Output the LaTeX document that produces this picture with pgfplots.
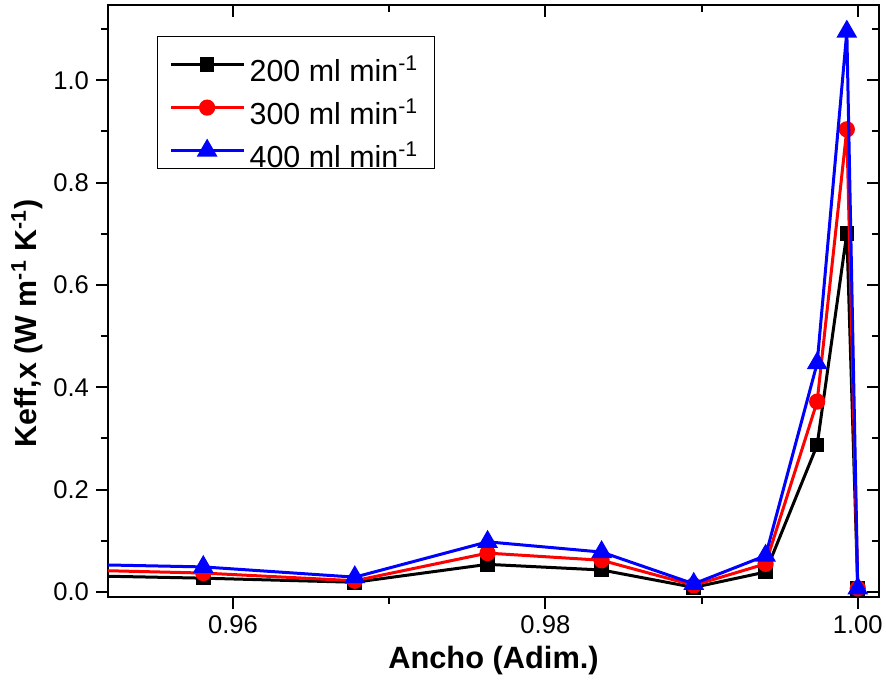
\documentclass[border=0pt]{standalone}
\usepackage{fontspec}
\setmainfont{Liberation Sans}
\usepackage{pgfplots}
\pgfplotsset{compat=1.18}
\begin{document}
\begin{tikzpicture}
\path[use as bounding box] (-54pt,-43.5pt) rectangle (389pt,298.5pt);
\pgfplotsset{
  common/.style={
    scale only axis, width=385.5pt, height=296pt,
    xmin=0.9520, xmax=1.00136, ymin=-0.0098, ymax=1.147,
    xtick={0.96,0.98,1.00}, minor xtick={0.97,0.99},
    ytick={0,0.2,0.4,0.6,0.8,1.0}, minor ytick={0.1,0.3,0.5,0.7,0.9,1.1},
    axis line style={line width=1pt},
    major tick length=6pt, minor tick length=3.5pt,
    every tick/.style={black, line width=1pt},
    tick label style={font=\fontsize{12.8}{15}\selectfont},
    /pgf/number format/assume math mode=true,
  }
}
\begin{axis}[common,
  tick align=outside, xtick pos=bottom, ytick pos=left,
  xticklabel style={/pgf/number format/.cd, fixed, fixed zerofill, precision=2},
  yticklabel style={/pgf/number format/.cd, fixed, fixed zerofill, precision=1},
  scaled ticks=false,
  xlabel={\bfseries Ancho (Adim.)},
  ylabel={\bfseries Keff,x (W m\textsuperscript{-1} K\textsuperscript{-1})},
  xlabel style={font=\fontsize{15.4}{18}\selectfont, at={(axis description cs:0.5,-0.1081)}, anchor=center},
  ylabel style={font=\fontsize{15.2}{18}\selectfont, at={(axis description cs:-0.105,0.462)}, anchor=center},
  clip marker paths=true,
  legend cell align=left,
  legend image code/.code={\draw[yshift=-2.5pt,mark repeat=2,mark phase=2] plot coordinates {(0pt,0pt) (18pt,0pt) (36.5pt,0pt)};},
  legend style={draw=black, line width=0.6pt, font=\fontsize{15.2}{18}\selectfont,
    at={(0.0636,0.9476)}, anchor=north west, inner xsep=6pt, inner ysep=0.75pt, row sep=0pt,
    nodes={text height=21.5pt, text depth=0pt, inner ysep=0pt}},
]
\addplot[black, line width=1.5pt, mark=square*, mark size=2.9pt, mark options={solid}] coordinates {
(0.9500,0.032) (0.9581,0.027) (0.9678,0.019) (0.9763,0.054) (0.9836,0.043) (0.9895,0.009) (0.9941,0.039) (0.9974,0.287) (0.9993,0.701) (1.0000,0.007)};
\addlegendentry{200 ml min\textsuperscript{-1}}
\addplot[red, line width=1.5pt, mark=*, mark size=3.3pt, mark options={solid}] coordinates {
(0.9500,0.043) (0.9581,0.037) (0.9678,0.022) (0.9763,0.076) (0.9836,0.062) (0.9895,0.013) (0.9941,0.055) (0.9974,0.372) (0.9993,0.904) (1.0000,0.007)};
\addlegendentry{300 ml min\textsuperscript{-1}}
\addplot[blue, line width=1.5pt, mark=triangle*, mark size=4.5pt, mark options={solid}] coordinates {
(0.9500,0.054) (0.9581,0.049) (0.9678,0.029) (0.9763,0.098) (0.9836,0.078) (0.9895,0.016) (0.9941,0.071) (0.9974,0.447) (0.9993,1.095) (1.0000,0.007)};
\addlegendentry{400 ml min\textsuperscript{-1}}
\end{axis}
\begin{axis}[common, tick align=inside, xtick pos=top, ytick pos=right,
  xticklabels={}, yticklabels={}, axis line style={draw=none}]
\end{axis}
\end{tikzpicture}
\end{document}
